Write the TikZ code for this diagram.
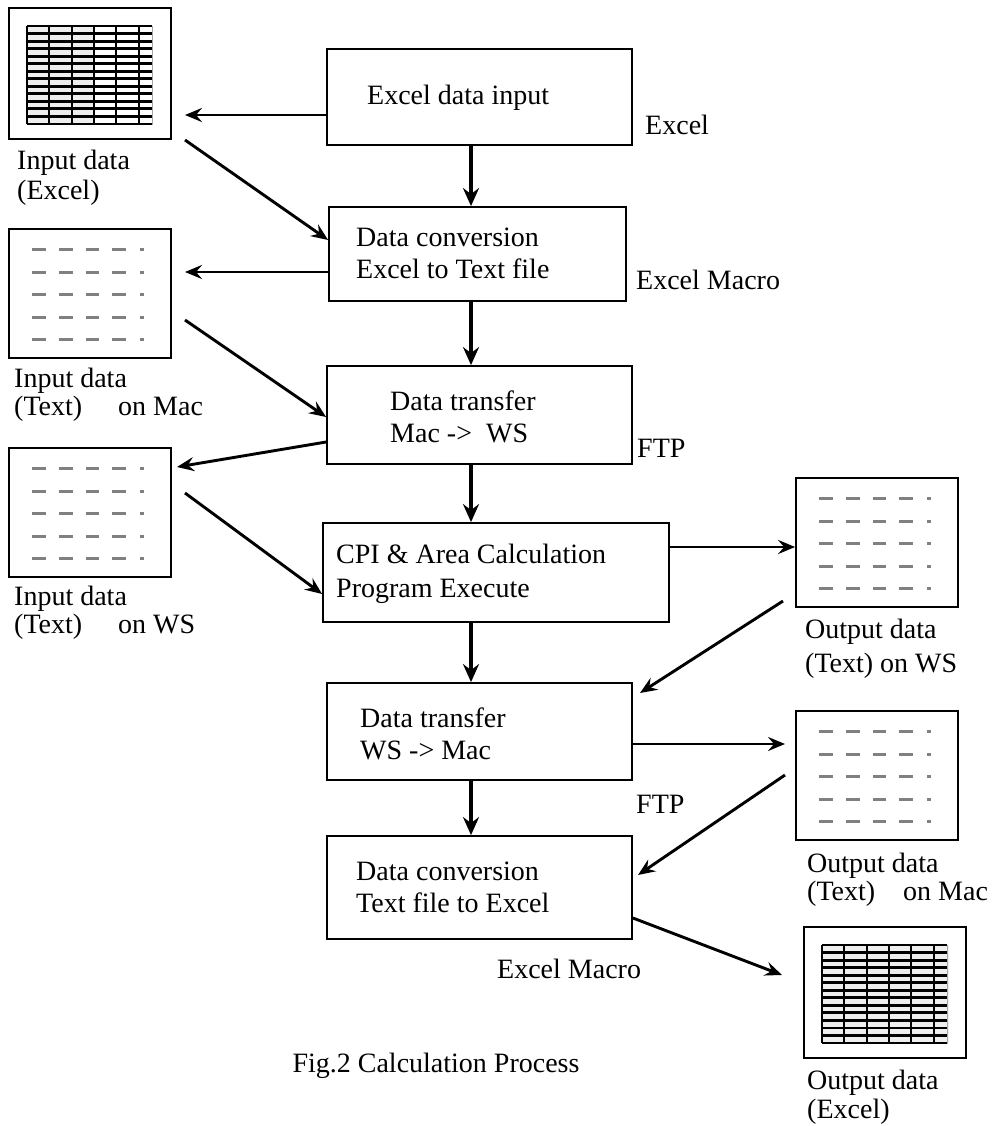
\documentclass[tikz,border=0pt]{standalone}
\usepackage{fontspec}
\setmainfont{Liberation Serif}
\usetikzlibrary{arrows.meta,calc}
\newcommand\xlicon[4]{% name, X, Y, filled width
  \node[frame,minimum width=162pt,minimum height=131pt] (#1) at (#2+81,#3+65.5) {};
  \fill[gray!13] (#2+18,#3+18) rectangle (#2+18+#4,#3+116);
  \draw[gray!70,line width=0.8pt] (#2+18,#3+18) rectangle (#2+143,#3+116);
  \foreach \k in {0,...,13} {\draw[line width=2.9pt] (#2+18,#3+18+\k*7.54) -- (#2+143,#3+18+\k*7.54);}
  \foreach \v in {0,22,45,67,89,112} {\draw[line width=2.9pt] (#2+18+\v,#3+18) -- (#2+18+\v,#3+116);}
}
\newcommand\txicon[3]{% name, X, Y
  \node[frame,minimum width=162pt,minimum height=129pt] (#1) at (#2+81,#3+64.5) {};
  \foreach \r in {20,43,65,88,110} {
    \foreach \a/\b in {23/37,50/64,77/90,103/117,131/135} {
      \draw[dashrow] (#2+\a,#3+\r) -- (#2+\b,#3+\r);}}
}
\begin{document}
\begin{tikzpicture}[x=1pt,y=-1pt,
  box/.style={draw,line width=1.8pt,inner sep=0pt},
  frame/.style={draw,line width=1.8pt,inner sep=0pt},
  lbl/.style={anchor=base west,inner sep=0pt,font=\fontsize{28}{32}\selectfont},
  arr/.style={line width=2.9pt,-{Stealth[length=17pt,width=14pt,inset=6pt]}},
  varr/.style={line width=4pt,-{Stealth[length=18pt,width=16pt,inset=6pt]}},
  dashrow/.style={draw=black!50,line width=3pt},
]
\useasboundingbox (0,0) rectangle (994,1126);

% main boxes
\node[box,minimum width=305pt,minimum height=96pt] (b1) at (479.5,97) {};
\node[box,minimum width=297pt,minimum height=94pt] (b2) at (477.5,254) {};
\node[box,minimum width=305pt,minimum height=98pt] (b3) at (479.5,415) {};
\node[box,minimum width=346pt,minimum height=99pt] (b4) at (496,572.5) {};
\node[box,minimum width=305pt,minimum height=97pt] (b5) at (479.5,731.5) {};
\node[box,minimum width=305pt,minimum height=103pt] (b6) at (479.5,887.5) {};

% box texts
\node[lbl] (t1a) at (367,105) {Excel data input};
\node[lbl] (t2a) at (356,246) {Data conversion};
\node[lbl] (t2b) at (356,278) {Excel to Text file};
\node[lbl] (t3a) at (390,410) {Data transfer};
\node[lbl] (t3b) at (390,442) {Mac ->\ \ WS};
\node[lbl] (t4a) at (336,563) {CPI \& Area Calculation};
\node[lbl] (t4b) at (336,597) {Program Execute};
\node[lbl] (t5a) at (360,727) {Data transfer};
\node[lbl] (t5b) at (360,759) {WS -> Mac};
\node[lbl] (t6a) at (356,880) {Data conversion};
\node[lbl] (t6b) at (356,912) {Text file to Excel};

% side labels
\node[lbl] (s1) at (645,135) {Excel};
\node[lbl] (s2) at (636,289) {Excel Macro};
\node[lbl] (s3) at (637,457) {FTP};
\node[lbl] (s5) at (636,813) {FTP};
\node[lbl] (s6) at (497,978) {Excel Macro};

% icons
\xlicon{i1}{9}{8}{67}
\txicon{i2}{9}{229}
\txicon{i3}{9}{448}
\txicon{i4}{796}{478}
\txicon{i5}{796}{711}
\xlicon{i6}{804}{927}{127}

% icon labels
\node[lbl] (l1a) at (17,170) {Input data};
\node[lbl] (l1b) at (17,200) {(Excel)};
\node[lbl] (l2a) at (14,387) {Input data};
\node[lbl] (l2b) at (14,415) {(Text)\hspace{36pt}on Mac};
\node[lbl] (l3a) at (14,605) {Input data};
\node[lbl] (l3b) at (14,633) {(Text)\hspace{36pt}on WS};
\node[lbl] (l4a) at (805,638) {Output data};
\node[lbl] (l4b) at (805,672) {(Text)\hspace{7pt}on WS};
\node[lbl] (l5a) at (807,872) {Output data};
\node[lbl] (l5b) at (807,900) {(Text)\hspace{28pt}on Mac};
\node[lbl] (l6a) at (807,1089) {Output data};
\node[lbl] (l6b) at (807,1118) {(Excel)};

% caption
\node[anchor=base,inner sep=0pt,font=\fontsize{28}{32}\selectfont] (cap) at (436,1072) {Fig.2 Calculation Process};

% vertical arrows
\coordinate (vx) at (471,0);
\draw[varr] (b1.south -| vx) -- (b2.north -| vx);
\draw[varr] (b2.south -| vx) -- (b3.north -| vx);
\draw[varr] (b3.south -| vx) -- (b4.north -| vx);
\draw[varr] (b4.south -| vx) -- (b5.north -| vx);
\draw[varr] (b5.south -| vx) -- (b6.north -| vx);

% side arrows
\coordinate (e1) at (185,115);
\draw[arr] (b1.west |- e1) -- (e1);
\coordinate (e2s) at (185,140);
\coordinate (e2) at (0,240);
\draw[arr] (e2s) -- (b2.west |- e2);
\coordinate (e3) at (185,272);
\draw[arr] (b2.west |- e3) -- (e3);
\coordinate (e4s) at (185,320);
\coordinate (e4) at (0,417);
\draw[arr] (e4s) -- (b3.west |- e4);
\coordinate (e5s) at (0,442);
\coordinate (e5) at (177,467);
\draw[arr] (b3.west |- e5s) -- (e5);
\coordinate (e6s) at (185,493);
\coordinate (e6) at (0,594);
\draw[arr] (e6s) -- (b4.west |- e6);
\coordinate (e7) at (0,547);
\draw[arr] (b4.east |- e7) -- (i4.west |- e7);
\coordinate (e8s) at (783,601);
\coordinate (e8) at (640,693);
\draw[arr] (e8s) -- (e8);
\coordinate (e9) at (785,744);
\draw[arr] (b5.east |- e9) -- (e9);
\coordinate (e10s) at (785,775);
\coordinate (e10) at (638,875);
\draw[arr] (e10s) -- (e10);
\coordinate (e11s) at (0,918);
\coordinate (e11) at (782,975);
\draw[arr] (b6.east |- e11s) -- (e11);
\end{tikzpicture}
\end{document}
